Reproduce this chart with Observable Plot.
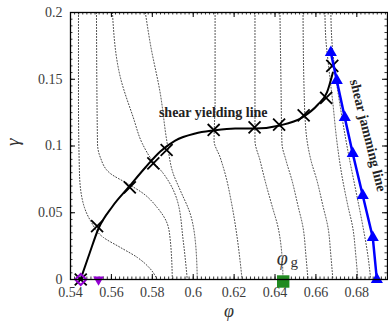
<!DOCTYPE html>
<html><head><meta charset="utf-8">
<script src="https://cdn.jsdelivr.net/npm/d3@7"></script>
<script src="https://cdn.jsdelivr.net/npm/@observablehq/plot@0.6"></script>
<style>body{margin:0;background:#fff} svg{display:block}</style>
</head><body><div id="chart"></div>
<script>
const xTicks = [0.54, 0.56, 0.58, 0.6, 0.62, 0.64, 0.66, 0.68];
const xTickLabels = ["0.54", "0.56", "0.58", "0.6", "0.62", "0.64", "0.66", "0.68"];
const yTicks = [0, 0.05, 0.1, 0.15, 0.2];
const yTickLabels = ["0", "0.05", "0.1", "0.15", "0.2"];

// shear yielding points (crosses)
const yieldPhi   = [0.545, 0.553, 0.569, 0.5805, 0.587, 0.610, 0.630, 0.642, 0.654, 0.665, 0.668];
const yieldGamma = [0,     0.040, 0.069, 0.087,  0.097, 0.112, 0.114, 0.116, 0.123, 0.136, 0.160];
// shear yielding line (smooth fit)
const yieldLinePhi   = [0.5449, 0.5493, 0.5537, 0.5605, 0.5683, 0.5766, 0.5839, 0.5912, 0.601, 0.6098, 0.6205, 0.6302, 0.6424, 0.6532, 0.661, 0.6654, 0.6683];
const yieldLineGamma = [0,      0.0195, 0.0382, 0.0547, 0.0689, 0.0839, 0.0959, 0.1041, 0.1094, 0.1116, 0.1131, 0.1131, 0.1154, 0.1213, 0.1311, 0.1401, 0.1551];
// shear jamming line (triangles)
const jamPhi   = [0.6673, 0.6702, 0.6741, 0.678, 0.6829, 0.6878, 0.6898];
const jamGamma = [0.170,  0.149,  0.1213, 0.0944, 0.0629, 0.0315, 0];
// special points on the phi axis
const rcpPhi = [0.545];
const lowPhi = [0.5537];
const glassPhi = [0.644];

// dotted iso-lines, each a list of [phi, gamma]
const contours = [
  [[0.5439,0.2],[0.5439,0.134],[0.5444,0.079],[0.5459,0.059],[0.5498,0.044],[0.5561,0.0315],[0.5644,0.024],[0.5727,0.0165],[0.579,0.008],[0.5824,0]],
  [[0.5527,0.2],[0.5532,0.1019],[0.5546,0.0914],[0.5595,0.0794],[0.5678,0.0719],[0.5756,0.0644],[0.5824,0.0539],[0.5873,0.0419],[0.5888,0.0292],[0.5898,0]],
  [[0.5605,0.2],[0.5644,0.1513],[0.5707,0.1213],[0.5751,0.1019],[0.58,0.0891],[0.5854,0.0794],[0.5922,0.0592],[0.5951,0.0292],[0.5971,0]],
  [[0.5766,0.2],[0.579,0.1768],[0.5839,0.1393],[0.5873,0.1019],[0.5902,0.0794],[0.5937,0.0667],[0.5985,0.0494],[0.601,0.0292],[0.602,0]],
  [[0.6107,0.2],[0.6107,0.1341],[0.6102,0.1041],[0.6132,0.0914],[0.6161,0.0764],[0.6185,0.0592],[0.621,0.0367],[0.6229,0.0142],[0.6239,0]],
  [[0.6302,0.2],[0.6302,0.1341],[0.6302,0.1041],[0.6327,0.0891],[0.6351,0.0742],[0.6385,0.0554],[0.6415,0.039],[0.6434,0.018],[0.6439,0]],
  [[0.6424,0.2],[0.6429,0.1491],[0.6434,0.1019],[0.6454,0.0891],[0.6483,0.0742],[0.6512,0.0554],[0.6537,0.039],[0.6551,0.018],[0.6561,0]],
  [[0.6537,0.2],[0.6541,0.1491],[0.6551,0.1116],[0.6576,0.0891],[0.6605,0.0742],[0.6634,0.0554],[0.6659,0.039],[0.6673,0.018],[0.6683,0]],
  [[0.6644,0.2],[0.6649,0.179],[0.6659,0.164],[0.6683,0.1318],[0.6702,0.1041],[0.6727,0.0779],[0.6756,0.0554],[0.678,0.039],[0.6795,0.018],[0.6805,0]],
  [[0.6673,0.2],[0.6678,0.179],[0.6693,0.1566],[0.6722,0.1266],[0.6756,0.0966],[0.6795,0.0667],[0.6829,0.0404],[0.6854,0.018],[0.6868,0]]
];

const yieldPts = yieldPhi.map((p, i) => ({phi: p, gamma: yieldGamma[i]}));
const yieldLine = yieldLinePhi.map((p, i) => ({phi: p, gamma: yieldLineGamma[i]}));
const jamPts = jamPhi.map((p, i) => ({phi: p, gamma: jamGamma[i]}));
const contourRows = contours.flatMap((c, k) => c.map(([phi, gamma]) => ({id: k, phi, gamma})));

const W = 388, H = 322, mL = 70, mR = 1, mT = 12, mB = 43;
const innerW = W - mL - mR, innerH = H - mT - mB;
const xMinor = d3.range(0.54, 0.6949, 0.002);
const yMinor = d3.range(0, 0.2001, 0.005);
const serif = "Liberation Serif, DejaVu Serif, serif";

const chart = Plot.plot({
  width: W, height: H,
  marginLeft: mL, marginRight: mR, marginTop: mT, marginBottom: mB,
  x: {domain: [0.54, 0.695], label: null},
  y: {domain: [0, 0.2], label: null},
  style: {fontFamily: serif, fontSize: "14px", background: "#fff", color: "#000"},
  marks: [
    // minor & major ticks, inward, on all four sides
    Plot.tickX(xMinor, {x: d => d, insetTop: innerH - 2.5, stroke: "#000", strokeWidth: 0.8}),
    Plot.tickX(xMinor, {x: d => d, insetBottom: innerH - 2.5, stroke: "#000", strokeWidth: 0.8}),
    Plot.tickX(xTicks, {x: d => d, insetTop: innerH - 5, stroke: "#000", strokeWidth: 1}),
    Plot.tickX(xTicks, {x: d => d, insetBottom: innerH - 5, stroke: "#000", strokeWidth: 1}),
    Plot.tickY(yMinor, {y: d => d, insetRight: innerW - 2.5, stroke: "#000", strokeWidth: 0.8}),
    Plot.tickY(yMinor, {y: d => d, insetLeft: innerW - 2.5, stroke: "#000", strokeWidth: 0.8}),
    Plot.tickY(yTicks, {y: d => d, insetRight: innerW - 5, stroke: "#000", strokeWidth: 1}),
    Plot.tickY(yTicks, {y: d => d, insetLeft: innerW - 5, stroke: "#000", strokeWidth: 1}),
    Plot.axisX(xTicks, {tickSize: 0, tickPadding: 8, tickFormat: d => xTickLabels[xTicks.indexOf(d)], fill: "#3c3c3c", fontSize: 14, label: null}),
    Plot.axisY(yTicks, {tickSize: 0, tickPadding: 8, tickFormat: d => yTickLabels[yTicks.indexOf(d)], fill: "#3c3c3c", fontSize: 14, label: null}),
    Plot.text(["φ"], {frameAnchor: "bottom", dy: 37, fontSize: 18, fontStyle: "italic", fill: "#333"}),
    Plot.text(["γ"], {frameAnchor: "left", dx: -58, rotate: -90, fontSize: 19, fontStyle: "italic", fill: "#333"}),
    // dotted iso-lines
    Plot.line(contourRows, {x: "phi", y: "gamma", z: "id", stroke: "#222", strokeWidth: 0.85, strokeDasharray: "1 2", curve: "monotone-y"}),
    // shear yielding line
    Plot.line(yieldLine, {x: "phi", y: "gamma", stroke: "#000", strokeWidth: 2, curve: "monotone-x"}),
    Plot.dot(yieldPts, {x: "phi", y: "gamma", symbol: "times", r: 5.5, stroke: "#000", strokeWidth: 1.8}),
    // shear jamming line
    Plot.line(jamPts, {x: "phi", y: "gamma", stroke: "#0000ff", strokeWidth: 2.5}),
    Plot.dot(jamPts, {x: "phi", y: "gamma", symbol: "triangle", r: 4.5, fill: "#0000ff"}),
    // points on the axis
    Plot.dot(glassPhi, {x: d => d, y: 0, symbol: "square", r: 7, fill: "#228b22", dy: 2}),
    Plot.dot(rcpPhi, {x: d => d, y: 0, symbol: "diamond2", r: 5, stroke: "#9400d3", strokeWidth: 2, fill: "none"}),
    Plot.dot(lowPhi, {x: d => d, y: 0, symbol: "triangle", rotate: 180, r: 4, fill: "#9400d3"}),
    Plot.frame({stroke: "#000", strokeWidth: 1.3}),
    // annotations
    Plot.text(["shear yielding line"], {x: 0.6098, y: 0.125, fontWeight: "bold", fontSize: 14, letterSpacing: 1.1, fill: "#222"}),
    Plot.text(["shear jamming line"], {x: 0.6855, y: 0.1079, rotate: 76, fontWeight: "bold", fontSize: 14, letterSpacing: 0.6, fill: "#222"}),
    Plot.text(["φ"], {x: glassPhi[0], y: 0.016, dx: -1, fontSize: 20, fontStyle: "italic", fill: "#333"}),
    Plot.text(["g"], {x: glassPhi[0], y: 0.016, dx: 11, dy: 4, fontSize: 15, fill: "#333"})
  ]
});
document.getElementById("chart").appendChild(chart);
</script>
</body></html>
